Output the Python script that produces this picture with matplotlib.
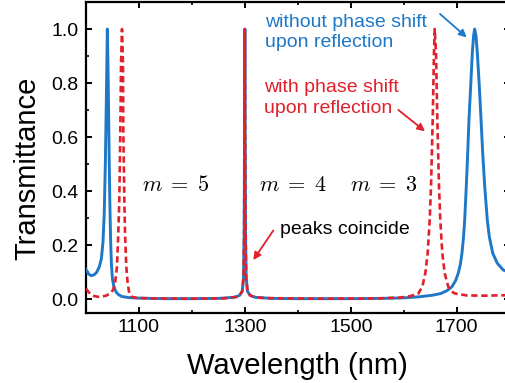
import matplotlib
matplotlib.use('Agg')
import matplotlib.pyplot as plt

plt.rcParams['font.family'] = ['Liberation Sans', 'DejaVu Sans']
plt.rcParams['mathtext.fontset'] = 'cm'

# ── data ──
blue_wl = [1000, 1005, 1010, 1015, 1020, 1025, 1029, 1032, 1034.5, 1036.5, 1038.5, 1040.3,
           1042, 1043.6, 1045, 1046.5, 1048, 1050, 1053, 1057, 1062, 1068, 1080, 1100,
           1150, 1200, 1250, 1280, 1290, 1295, 1297.5, 1298.7, 1299.3, 1300, 1300.7,
           1301.3, 1302.5, 1305, 1310, 1320, 1350, 1400, 1500, 1560, 1600, 1630, 1655,
           1670, 1682, 1691, 1698, 1703, 1707, 1710, 1713, 1715.2, 1718.2, 1720.9,
           1723.3, 1726.5, 1729.6, 1732, 1734, 1736.5, 1739, 1742.8, 1746, 1749.2,
           1753, 1757.9, 1761.7, 1768.1, 1776.8, 1788, 1800]
blue_T = [0.111, 0.094, 0.088, 0.091, 0.100, 0.120, 0.150, 0.210, 0.320, 0.500, 0.750, 1.0,
          0.80, 0.55, 0.36, 0.22, 0.13, 0.075, 0.045, 0.027, 0.017, 0.011, 0.007, 0.005,
          0.003, 0.003, 0.004, 0.008, 0.015, 0.030, 0.080, 0.25, 0.55, 1.0, 0.55,
          0.25, 0.080, 0.030, 0.015, 0.008, 0.004, 0.003, 0.003, 0.004, 0.006, 0.010, 0.016,
          0.022, 0.033, 0.047, 0.070, 0.097, 0.130, 0.171, 0.230, 0.294, 0.418, 0.542,
          0.666, 0.789, 0.913, 0.975, 1.0, 0.975, 0.913, 0.789, 0.666, 0.542,
          0.418, 0.294, 0.232, 0.171, 0.134, 0.109, 0.100]

red_wl = [1000, 1005, 1010, 1015, 1022, 1030, 1038, 1045, 1051, 1054.8, 1058.5, 1061,
          1062.9, 1064.8, 1066.1, 1068, 1069.9, 1070.5, 1072.4, 1073.7, 1076.1, 1078.7,
          1081.8, 1086.3, 1095, 1120, 1200, 1260, 1285, 1290, 1295, 1297.5, 1298.7,
          1299.3, 1300, 1300.7, 1301.3, 1302.5, 1305, 1310, 1320, 1340, 1450, 1550,
          1593, 1611.9, 1627.6, 1635.1, 1640.8, 1645.3, 1649.1, 1651.6, 1654.8, 1657.2,
          1658.5, 1661, 1663.5, 1666.7, 1669.1, 1672.9, 1677.4, 1684.2, 1690, 1696.9,
          1719, 1750, 1800]
red_T = [0.040, 0.027, 0.018, 0.013, 0.010, 0.011, 0.014, 0.022, 0.035, 0.059, 0.121, 0.245,
         0.369, 0.617, 0.864, 1.0, 0.864, 0.617, 0.369, 0.245, 0.121, 0.059,
         0.022, 0.010, 0.006, 0.004, 0.003, 0.004, 0.010, 0.015, 0.030, 0.080, 0.25,
         0.55, 1.0, 0.55, 0.25, 0.080, 0.030, 0.015, 0.008, 0.005, 0.003, 0.004,
         0.007, 0.012, 0.022, 0.047, 0.097, 0.171, 0.294, 0.418, 0.666, 0.913,
         1.0, 0.913, 0.666, 0.418, 0.294, 0.171, 0.097, 0.047, 0.030, 0.022,
         0.015, 0.014, 0.016]

m_labels = [r'$m\;=\;5$', r'$m\;=\;4$', r'$m\;=\;3$']
m_x = [1105, 1327, 1499]

BLUE = '#1E78C8'
RED = '#E0202A'

fig = plt.figure(figsize=(5.05, 3.83), dpi=100)
ax = fig.add_axes([86/505, 70/383, 423.6/505, 311/383])

ax.plot(blue_wl, blue_T, color=BLUE, lw=2.1, zorder=3)
ax.plot(red_wl, red_T, color=RED, lw=1.9, ls=(0, (2.4, 1.4)), zorder=4)

ax.set_xlim(1000, 1800)
ax.set_ylim(-0.05, 1.1)
ax.set_xticks([1100, 1300, 1500, 1700])
ax.set_xticks([1200, 1400, 1600], minor=True)
ax.set_yticks([0, 0.2, 0.4, 0.6, 0.8, 1.0])
ax.set_yticks([0.1, 0.3, 0.5, 0.7, 0.9], minor=True)
ax.set_yticklabels(['0.0', '0.2', '0.4', '0.6', '0.8', '1.0'])

for s in ax.spines.values():
    s.set_linewidth(1.6)
ax.tick_params(which='both', direction='in', top=True, right=True, labelsize=14)
ax.tick_params(which='major', length=4.5, width=1.4)
ax.tick_params(which='minor', length=2.5, width=1.2)
ax.tick_params(axis='y', pad=5.5)
ax.tick_params(axis='x', pad=4)

ax.set_xlabel('Wavelength (nm)', fontsize=21)
ax.set_ylabel('Transmittance', fontsize=21)
ax.xaxis.set_label_coords(0.5, -0.125)
ax.yaxis.set_label_coords(-0.105, 0.465)

for lbl, x in zip(m_labels, m_x):
    ax.text(x, 0.40, lbl, fontsize=16, va='baseline', ha='left')

# multi-line text: baseline refers to the last line
ax.text(1338, 0.932, 'without phase shift\nupon reflection', color=BLUE,
        fontsize=14, va='baseline', ha='left', linespacing=1.28)
ax.text(1336, 0.690, 'with phase shift\nupon reflection', color=RED,
        fontsize=14, va='baseline', ha='left', linespacing=1.28)
ax.text(1366, 0.2425, 'peaks coincide', color='black', fontsize=14,
        va='baseline', ha='left')

arrow = dict(arrowstyle='-|>', lw=1.3, mutation_scale=11, shrinkA=0, shrinkB=0)
ax.annotate('', xy=(1719, 0.969), xytext=(1668.6, 1.056),
            arrowprops=dict(arrow, color=BLUE), annotation_clip=False)
ax.annotate('', xy=(1640.2, 0.622), xytext=(1589.8, 0.701),
            arrowprops=dict(arrow, color=RED))
ax.annotate('', xy=(1316, 0.146), xytext=(1353.7, 0.255),
            arrowprops=dict(arrow, color=RED))

fig.savefig('out.png', dpi=100, facecolor='white')
